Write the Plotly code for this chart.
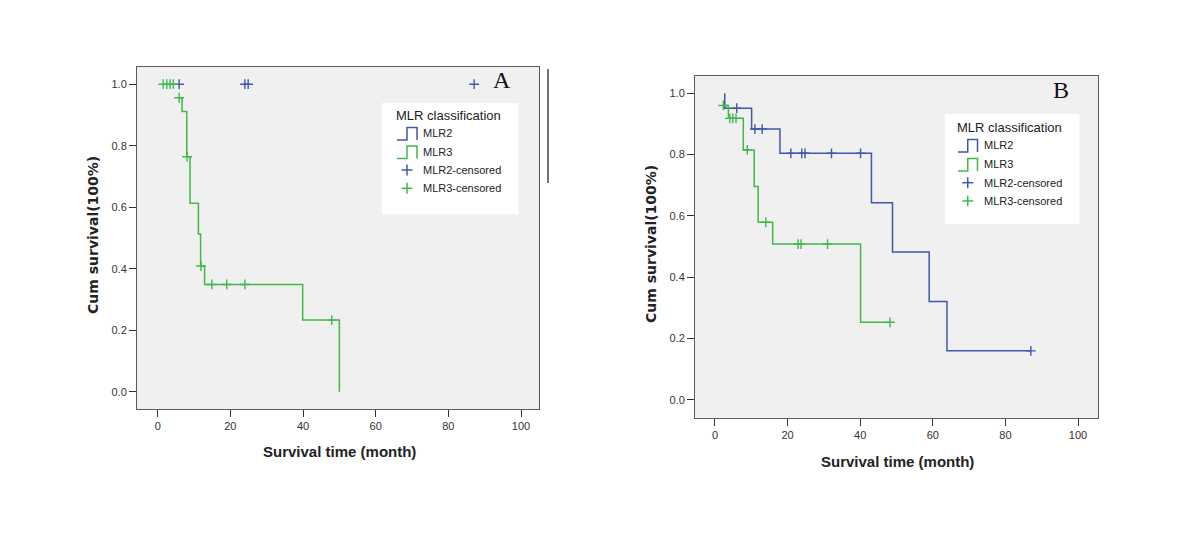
import plotly.graph_objects as go

# ---------------- data ----------------
# Panel A
a_mlr3_times = [5.9, 6.7, 8.0, 8.9, 11.2, 11.8, 12.9, 39.9, 50.0]
a_mlr3_surv = [0.956, 0.911, 0.764, 0.613, 0.513, 0.409, 0.349, 0.233, 0.0]
a_mlr3_cens = [1.5, 2.5, 3.4, 4.3, 5.9, 8.1, 11.9, 14.9, 19.0, 24.0, 47.9]
a_mlr2_times = []
a_mlr2_surv = []
a_mlr2_cens = [5.9, 24.0, 24.9, 87.1]

# Panel B
b_mlr2_times = [2.7, 2.7, 10.1, 17.9, 43.1, 48.9, 59.0, 63.9, 87.0]
b_mlr2_surv = [1.0, 0.951, 0.883, 0.804, 0.643, 0.482, 0.321, 0.160, 0.160]
b_mlr2_cens = [6.0, 11.0, 13.0, 20.9, 23.9, 24.8, 32.1, 40.1, 87.0]
b_mlr3_times = [2.3, 3.7, 7.8, 10.8, 11.9, 15.9, 40.1, 48.2]
b_mlr3_surv = [0.960, 0.918, 0.815, 0.696, 0.579, 0.508, 0.253, 0.253]
b_mlr3_cens = [2.3, 4.1, 4.9, 5.8, 8.9, 14.0, 22.9, 23.7, 31.0, 48.2]

x_ticks = [0, 20, 40, 60, 80, 100]
y_ticks = [0.0, 0.2, 0.4, 0.6, 0.8, 1.0]
legend_title = "MLR classification"
legend_labels = ["MLR2", "MLR3", "MLR2-censored", "MLR3-censored"]
x_title = "Survival time (month)"
y_title = "Cum survival(100%)"

# ---------------- style ----------------
W, H = 1200, 545
OFF = 8  # page body margin offset
BLUE = "#3e58ac"
GREEN = "#3fb94a"
FRAME = "#5a5a5a"
FONT = "Arial, Liberation Sans, sans-serif"
YFONT = "DejaVu Sans, Arial, sans-serif"


def px(x):
    return (x - OFF) / W


def py(y):
    return 1 - (y - OFF) / H


def step_val(times, surv, t):
    v = 1.0
    for tt, s in zip(times, surv):
        if tt <= t + 1e-9:
            v = s
    return v


fig = go.Figure()


def add_panel(n, times_list, cens_list, colors):
    xa = "x" if n == 1 else f"x{n}"
    ya = "y" if n == 1 else f"y{n}"
    for (times, surv), cens, col in zip(times_list, cens_list, colors):
        if times:
            fig.add_trace(go.Scatter(x=times, y=surv, mode="lines",
                                     line=dict(color=col, width=1.5, shape="hv"),
                                     xaxis=xa, yaxis=ya, showlegend=False,
                                     hoverinfo="skip"))
        cy = [step_val(times, surv, t) for t in cens]
        fig.add_trace(go.Scatter(x=cens, y=cy, mode="markers",
                                 marker=dict(symbol="cross-thin", size=7,
                                             line=dict(color=col, width=1.4)),
                                 xaxis=xa, yaxis=ya, showlegend=False,
                                 hoverinfo="skip"))


add_panel(1, [(a_mlr2_times, a_mlr2_surv), (a_mlr3_times, a_mlr3_surv)],
          [a_mlr2_cens, a_mlr3_cens], [BLUE, GREEN])
add_panel(2, [(b_mlr2_times, b_mlr2_surv), (b_mlr3_times, b_mlr3_surv)],
          [b_mlr2_cens, b_mlr3_cens], [BLUE, GREEN])

axis_common = dict(showgrid=False, zeroline=False, showline=True, mirror=True,
                   linecolor=FRAME, linewidth=1, ticks="outside", ticklen=7,
                   tickwidth=1, tickcolor="#333",
                   tickfont=dict(family=FONT, size=11, color="#333"))

fig.update_layout(
    width=W, height=H, autosize=False,
    margin=dict(l=0, r=0, t=0, b=0),
    paper_bgcolor="white", plot_bgcolor="#f0f0f0",
    showlegend=False,
    xaxis=dict(domain=[px(137), px(539)], range=[-5.7, 104.95],
               tickvals=x_ticks, anchor="y", **axis_common),
    yaxis=dict(domain=[py(409), py(67)], range=[-0.056, 1.056],
               tickvals=y_ticks, tickformat=".1f", anchor="x", **axis_common),
    xaxis2=dict(domain=[px(695), px(1098)], range=[-5.5, 105.5],
                tickvals=x_ticks, anchor="y2", **axis_common),
    yaxis2=dict(domain=[py(417.7), py(76)], range=[-0.058, 1.056],
                tickvals=y_ticks, tickformat=".1f", anchor="x2", **axis_common),
)

shapes = []
annotations = []

# axis titles
for (xt, yx, yy) in [((339, 451), 93, 235), ((897, 461), 651, 244)]:
    annotations.append(dict(x=px(xt[0]), y=py(xt[1]), xref="paper", yref="paper",
                            text=f"<b>{x_title}</b>", showarrow=False,
                            font=dict(family=FONT, size=15, color="#222"),
                            xanchor="center", yanchor="middle"))
    annotations.append(dict(x=px(yx), y=py(yy), xref="paper", yref="paper",
                            text=f"<b>{y_title}</b>", showarrow=False, textangle=-90,
                            font=dict(family=YFONT, size=14, color="#222"),
                            xanchor="center", yanchor="middle"))

# panel letters
SERIF = "Liberation Serif, Times New Roman, serif"
annotations.append(dict(x=px(502), y=py(80), xref="paper", yref="paper", text="A",
                        showarrow=False, font=dict(family=SERIF, size=24, color="#111"),
                        xanchor="center", yanchor="middle"))
annotations.append(dict(x=px(1061), y=py(90), xref="paper", yref="paper", text="B",
                        showarrow=False, font=dict(family=SERIF, size=24, color="#111"),
                        xanchor="center", yanchor="middle"))

# stray vertical line to the right of panel A
shapes.append(dict(type="line", xref="paper", yref="paper",
                   x0=px(548), x1=px(548), y0=py(69), y1=py(183),
                   line=dict(color="#444", width=1.5)))


def add_legend(box, title_pos, icon_x, text_x, rows_y):
    x0, y0, x1, y1 = box
    shapes.append(dict(type="rect", xref="paper", yref="paper",
                       x0=px(x0), x1=px(x1), y0=py(y1), y1=py(y0),
                       fillcolor="white", line=dict(width=0), layer="above"))
    annotations.append(dict(x=px(title_pos[0]), y=py(title_pos[1]), xref="paper",
                            yref="paper", text=legend_title, showarrow=False,
                            font=dict(family=FONT, size=13, color="#222"),
                            xanchor="left", yanchor="middle"))
    for i, (lab, ry) in enumerate(zip(legend_labels, rows_y)):
        col = BLUE if i % 2 == 0 else GREEN
        annotations.append(dict(x=px(text_x), y=py(ry), xref="paper", yref="paper",
                                text=lab, showarrow=False,
                                font=dict(family=FONT, size=11, color="#222"),
                                xanchor="left", yanchor="middle"))
        ix0, ix1 = icon_x
        imid = (ix0 + ix1) / 2
        if i < 2:
            yb, yt = ry + 7, ry - 5.5
            path = (f"M {px(ix0)},{py(yb)} L {px(imid)},{py(yb)} L {px(imid)},{py(yt)} "
                    f"L {px(ix1)},{py(yt)} L {px(ix1)},{py(yb)}")
            shapes.append(dict(type="path", xref="paper", yref="paper", path=path,
                               line=dict(color=col, width=1.5), layer="above"))
        else:
            shapes.append(dict(type="line", xref="paper", yref="paper",
                               x0=px(imid - 5.5), x1=px(imid + 5.5), y0=py(ry), y1=py(ry),
                               line=dict(color=col, width=1.5), layer="above"))
            shapes.append(dict(type="line", xref="paper", yref="paper",
                               x0=px(imid), x1=px(imid), y0=py(ry - 5.5), y1=py(ry + 5.5),
                               line=dict(color=col, width=1.5), layer="above"))


add_legend((382, 103, 518.5, 214.5), (394, 115.5), (397, 417), 421,
           [133, 151.5, 170, 188.3])
add_legend((945, 114, 1079.5, 224), (955, 127.5), (958, 977.5), 982,
           [145, 164, 182.7, 201])

fig.update_layout(shapes=shapes, annotations=annotations)

fig.write_html("out.html")
